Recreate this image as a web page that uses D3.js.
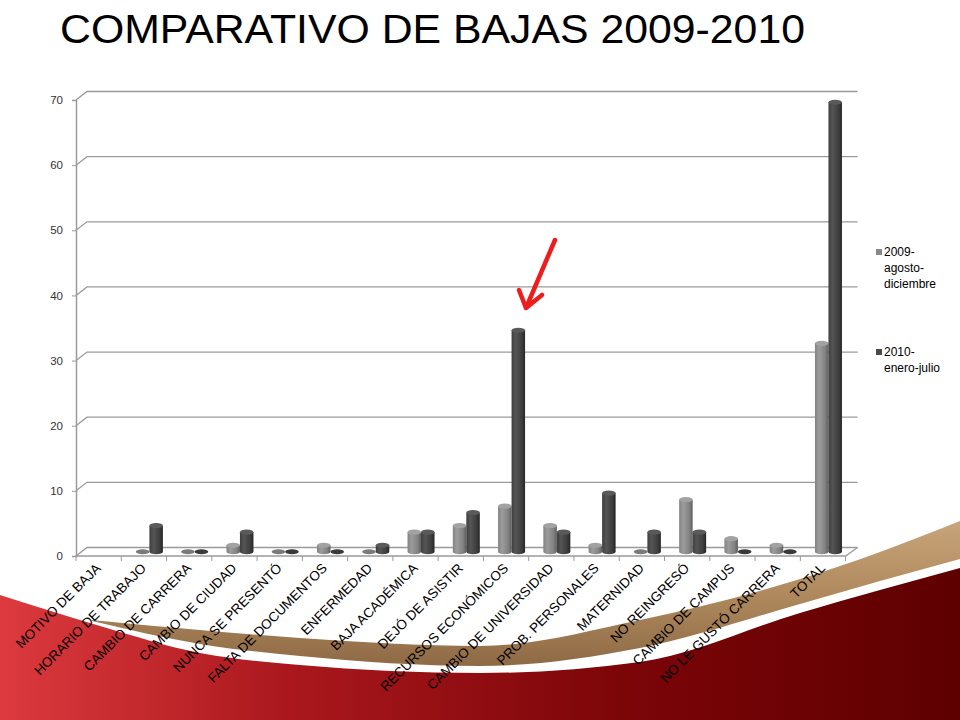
<!DOCTYPE html>
<html><head><meta charset="utf-8">
<script src="https://cdn.jsdelivr.net/npm/d3@7"></script>
<style>html,body{margin:0;padding:0;background:#fff;}svg{display:block;}</style>
</head><body><div id="chart"></div>
<script>
const categories = ["MOTIVO DE BAJA","HORARIO DE TRABAJO","CAMBIO DE CARRERA","CAMBIO DE CIUDAD","NUNCA SE PRESENTÓ","FALTA DE DOCUMENTOS","ENFERMEDAD","BAJA ACADÉMICA","DEJÓ DE ASISTIR","RECURSOS ECONÓMICOS","CAMBIO DE UNIVERSIDAD","PROB. PERSONALES","MATERNIDAD","NO REINGRESÓ","CAMBIO DE CAMPUS","NO LE GUSTÓ CARRERA","TOTAL"];
const seriesNames = ["2009-agosto-diciembre","2010-enero-julio"];
const legendLines = [["2009-","agosto-","diciembre"],["2010-","enero-julio"]];
const values2009 = [null,0,0,1,0,1,0,3,4,7,4,1,0,8,2,1,32];
const values2010 = [null,4,0,3,0,0,1,3,6,34,3,9,3,3,0,0,69];
const yTicks = [0,10,20,30,40,50,60,70];
const titleText = "COMPARATIVO DE BAJAS 2009-2010";

const W = 960, H = 720;
const svg = d3.select("#chart").append("svg").attr("width", W).attr("height", H);
const defs = svg.append("defs");

// background decoration (slide template)
const gRed = defs.append("linearGradient").attr("id","gRed").attr("x1","0").attr("x2","1").attr("y1","0").attr("y2","0");
gRed.append("stop").attr("offset","0").attr("stop-color","#dc3a3e");
gRed.append("stop").attr("offset","0.3").attr("stop-color","#aa181d");
gRed.append("stop").attr("offset","0.65").attr("stop-color","#7c0508");
gRed.append("stop").attr("offset","1").attr("stop-color","#5e0000");
const gTan = defs.append("linearGradient").attr("id","gTan").attr("x1","0").attr("x2","0").attr("y1","0").attr("y2","1");
gTan.append("stop").attr("offset","0").attr("stop-color","#c8a47a");
gTan.append("stop").attr("offset","0.5").attr("stop-color","#b08a5e");
gTan.append("stop").attr("offset","1").attr("stop-color","#8e6a45");

const redX   = [0,100,200,300,480,640,800,880,960];
const redTop = [595,626,653,665,673,662,613,590,568];
const redArea = d3.area().x((d,i)=>redX[i]).y0(H).y1(d=>d).curve(d3.curveMonotoneX);
svg.append("path").attr("d", redArea(redTop)).attr("fill","url(#gRed)");

const tanX   = [92,200,300,480,640,800,880,960];
const tanTop = [620,630,638,646,620,579,552,521];
const tanBot = [621,644,656,666,648,604,581,559];
const tanArea = d3.area().x((d,i)=>tanX[i]).y0((d,i)=>tanBot[i]).y1(d=>d).curve(d3.curveMonotoneX);
svg.append("path").attr("d", tanArea(tanTop)).attr("fill","url(#gTan)");

// title
const title = svg.append("text").attr("x",60).attr("y",43)
  .attr("font-family","Liberation Sans, Arial, sans-serif").attr("font-size",40)
  .attr("fill","#000").text(titleText);
title.attr("textLength",745).attr("lengthAdjust","spacingAndGlyphs");

// chart geometry
const DX = 11, DY = -8.5;
const x = d3.scaleBand().domain(categories).range([76, 845.6]);
const y = d3.scaleLinear().domain([0,70]).range([556,100]);
const xs = d3.scaleBand().domain(seriesNames).range([-13.5,13.5]);

const grid = svg.append("g");
yTicks.forEach(t => {
  grid.append("path").attr("d",`M${x.range()[0]},${y(t)}L${x.range()[0]+DX},${y(t)+DY}L${x.range()[1]+DX+1},${y(t)+DY}`)
    .attr("fill","none").attr("stroke","#9a9a9a").attr("stroke-width",1.3);
});
grid.append("path").attr("d",`M${x.range()[0]},${y(0)}L${x.range()[1]},${y(0)}L${x.range()[1]+DX+1},${y(0)+DY}`)
  .attr("fill","none").attr("stroke","#9a9a9a").attr("stroke-width",1.3);

// y axis
const yAxis = svg.append("g").attr("transform",`translate(${x.range()[0]},0)`)
  .call(d3.axisLeft(y).tickValues(yTicks).tickSize(4).tickPadding(9));
yAxis.select(".domain").attr("stroke","#9a9a9a").attr("stroke-width",1.5);
yAxis.selectAll(".tick line").attr("stroke","#9a9a9a");
yAxis.selectAll(".tick text").attr("font-family","Liberation Sans, Arial, sans-serif").attr("font-size",11.5).attr("fill","#333");

// x axis ticks
const xAxis = svg.append("g").attr("transform",`translate(0,${y(0)})`)
  .call(d3.axisBottom(x).tickSize(0).tickFormat(""));
xAxis.select(".domain").remove();
const bounds = categories.map(c => x(c)).concat([x.range()[1]]);
xAxis.selectAll(".bt").data(bounds).enter().append("line")
  .attr("x1",d=>d).attr("x2",d=>d).attr("y1",0).attr("y2",5).attr("stroke","#9a9a9a");

// category labels
svg.append("g").selectAll("text").data(categories).enter().append("text")
  .attr("transform", d => `translate(${x(d)+x.bandwidth()/2+3},${y(0)+13}) rotate(-45)`)
  .attr("text-anchor","end")
  .attr("font-family","Liberation Sans, Arial, sans-serif").attr("font-size",13.5)
  .attr("fill","#000").text(d=>d);

// bar gradients
function cylGrad(id, dark, mid, light) {
  const g = defs.append("linearGradient").attr("id",id).attr("x1","0").attr("x2","1").attr("y1","0").attr("y2","0");
  g.append("stop").attr("offset","0").attr("stop-color",mid);
  g.append("stop").attr("offset","0.3").attr("stop-color",light);
  g.append("stop").attr("offset","0.75").attr("stop-color",mid);
  g.append("stop").attr("offset","1").attr("stop-color",dark);
}
cylGrad("c0","#5e5e5e","#828282","#9c9c9c");
cylGrad("c1","#262626","#3e3e3e","#555555");
const topCol = ["#a2a2a2","#5a5a5a"];

const seriesVals = [values2009, values2010];
const barsG = svg.append("g");
const ry = 2.6;
seriesNames.forEach((s, si) => {
  const vals = seriesVals[si];
  categories.forEach((c, ci) => {
    const v = vals[ci];
    if (v === null || v === undefined) return;
    const cx = x(c) + x.bandwidth()/2 + DX/2 + xs(s);
    const w = xs.bandwidth();
    const yb = y(0) + DY/2;
    const yt = y(v) + DY/2;
    const g = barsG.append("g");
    if (v > 0) {
      g.append("path")
        .attr("d", `M${cx},${yt}L${cx},${yb}A${w/2},${ry} 0 0 0 ${cx+w},${yb}L${cx+w},${yt}Z`)
        .attr("fill",`url(#c${si})`);
    }
    g.append("ellipse").attr("cx",cx+w/2).attr("cy",yt).attr("rx",w/2).attr("ry",ry)
      .attr("fill", v>0 ? topCol[si] : (si===0?"#7a7a7a":"#3a3a3a"));
  });
});

// legend
const legend = svg.append("g");
const legCol = ["#888888","#4a4a4a"];
const legY = [256, 356];
legendLines.forEach((lines, i) => {
  legend.append("rect").attr("x",876).attr("y",legY[i]-7).attr("width",6).attr("height",6).attr("fill",legCol[i]);
  lines.forEach((ln, j) => {
    legend.append("text").attr("x",884).attr("y",legY[i]+j*16)
      .attr("font-family","Liberation Sans, Arial, sans-serif").attr("font-size",12)
      .attr("fill","#000").text(ln);
  });
});

// red arrow annotation
svg.append("path").attr("d","M555,240L526,308M519,290L526,308L542,295")
  .attr("fill","none").attr("stroke","#ee1c1c").attr("stroke-width",4.5)
  .attr("stroke-linecap","round").attr("stroke-linejoin","round");
</script></body></html>
